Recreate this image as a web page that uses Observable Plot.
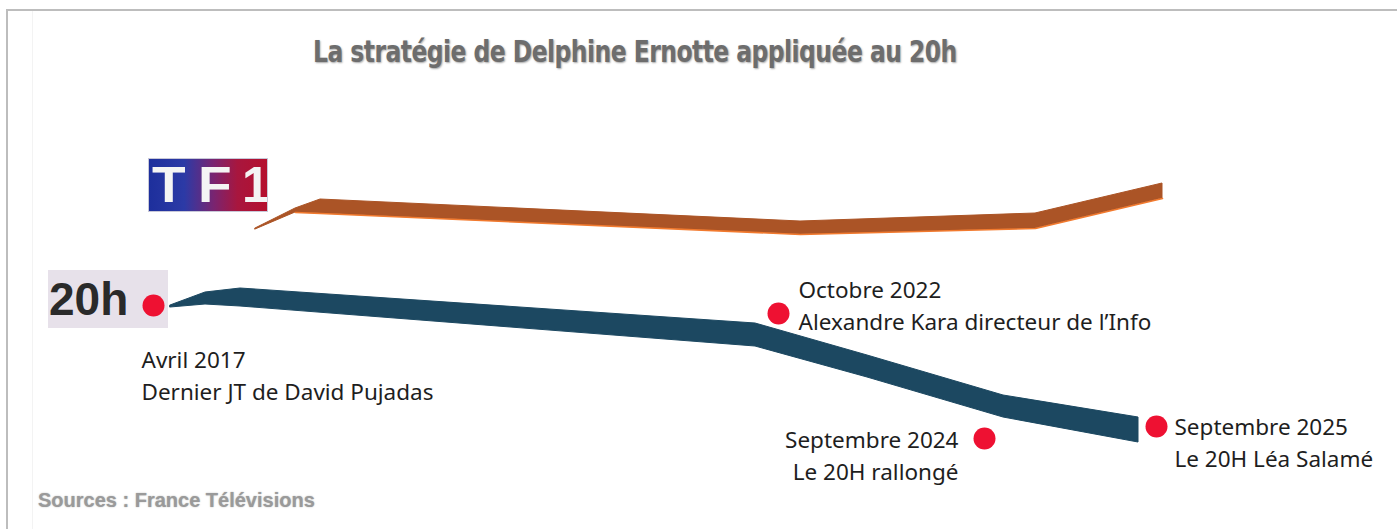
<!DOCTYPE html>
<html>
<head>
<meta charset="utf-8">
<script src="https://cdn.jsdelivr.net/npm/d3@7"></script>
<script src="https://cdn.jsdelivr.net/npm/@observablehq/plot@0.6"></script>
<style>
  html, body { margin: 0; padding: 0; background: #fff; }
  #page { position: relative; width: 1397px; height: 529px; overflow: hidden; background: #fff; }
  #frame { position: absolute; left: 6px; top: 9px; right: -4px; bottom: -4px; border-top: 2px solid #bdbdbd; border-left: 2px solid #bdbdbd; }
  #inner { position: absolute; left: 32px; top: 11px; bottom: 0; border-left: 1px solid #f3f3f3; }
  #chart { position: absolute; left: 0; top: 0; }
  #title { position: absolute; left: 313px; top: 34px; font-family: "DejaVu Sans Condensed", "Liberation Sans", sans-serif; font-stretch: condensed; font-weight: bold; font-size: 30px; color: #6d6d6d; letter-spacing: -0.6px; text-shadow: 1px 1px 2px rgba(0,0,0,0.35); white-space: nowrap; transform: scaleX(0.868); transform-origin: 0 0; }
  #caption { position: absolute; left: 38px; top: 489px; font-family: "Liberation Sans", Arial, sans-serif; font-weight: bold; font-size: 20px; color: #9a9a9a; text-shadow: 0 0 1.5px rgba(120,120,120,0.6); white-space: nowrap; }
  #tf1 { position: absolute; left: 148px; top: 158px; width: 120px; height: 54px; box-sizing: border-box; border: 1px solid #c8c8d8; overflow: hidden;
         background: linear-gradient(90deg, #1d2f9c 0%, #2c3aa6 30%, #7a2470 55%, #a8163e 75%, #b5102e 100%);
         font-family: "Liberation Sans", Arial, sans-serif; font-weight: bold; font-size: 50px; color: #f4f4f4; line-height: 52px; }
  #tf1 span { position: absolute; top: 0px; display: inline-block; transform: scaleX(1.1); transform-origin: 0 0; }
  #tf1 span.one { transform: none; letter-spacing: -9px; }
  #jt { position: absolute; left: 48px; top: 270px; width: 120px; height: 58px; background: #e7e1ea;
        font-family: "Liberation Sans", Arial, sans-serif; font-weight: bold; font-size: 46px; color: #2a2a2a; line-height: 58px; padding-left: 1px; box-sizing: border-box; }
</style>
</head>
<body>
<div id="page">
  <div id="frame"></div>
  <div id="inner"></div>
  <div id="tf1"><span style="left:3px">T</span><span style="left:49px">F</span><span class="one" style="left:93px">1</span></div>
  <div id="jt">20h</div>
  <div id="chart"></div>
  <div id="title">La stratégie de Delphine Ernotte appliquée au 20h</div>
  <div id="caption">Sources : France Télévisions</div>
</div>
<script>
// Ribbon for TF1 (x position on the timeline, upper / lower edge of the ribbon)
const tf1X    = [25.5, 29.5, 32.0, 80.0, 103.5, 116.2];
const tf1High = [30.1, 32.1, 33.0, 30.8, 31.6, 34.6];
const tf1Low  = [30.0, 31.7, 31.6, 29.5, 30.1, 33.1];

// Ribbon for the France 2 20h
const jtX    = [17.0, 20.5, 24.0, 75.5, 86.7, 100.3, 113.8];
const jtHigh = [22.4, 23.7, 24.1, 20.6, 17.4, 13.4, 11.2];
const jtLow  = [22.2, 22.5, 22.3, 18.3, 15.2, 11.2, 8.7];

// Key events
const eventX     = [15.3, 77.8, 98.4, 115.6];
const eventY     = [22.4, 21.6, 9.1, 10.3];
const eventTitle = ["Avril 2017", "Octobre 2022", "Septembre 2024", "Septembre 2025"];
const eventText  = ["Dernier JT de David Pujadas", "Alexandre Kara directeur de l’Info", "Le 20H rallongé", "Le 20H Léa Salamé"];

const tf1 = tf1X.map((x, i) => ({x, y1: tf1Low[i], y2: tf1High[i]}));
const jt = jtX.map((x, i) => ({x, y1: jtLow[i], y2: jtHigh[i]}));
const events = eventX.map((x, i) => ({x, y: eventY[i], label: eventTitle[i] + "\n" + eventText[i]}));

const textStyle = {fontSize: 22.5, fill: "#1e1e1e", lineHeight: 1.43, lineAnchor: "middle", fontFamily: "'Noto Sans', 'Open Sans', sans-serif"};

const chart = Plot.plot({
  width: 1397,
  height: 529,
  marginTop: 0, marginRight: 0, marginBottom: 0, marginLeft: 0,
  x: {domain: [0, 139.7], axis: null},
  y: {domain: [0, 52.9], axis: null},
  style: {background: "transparent", overflow: "visible"},
  marks: [
    Plot.areaY(tf1, {x: "x", y1: "y1", y2: "y2", fill: "#ab5426", stroke: "#ab5426", strokeWidth: 1}),
    Plot.line(tf1.slice(1), {x: "x", y: "y1", stroke: "#f27a2e", strokeWidth: 1.6}),
    Plot.areaY(jt, {x: "x", y1: "y1", y2: "y2", fill: "#1c4861", stroke: "#1c4861", strokeWidth: 1}),
    Plot.dot(events, {x: "x", y: "y", r: 11, fill: "#ee1132"}),
    Plot.text(events.slice(0, 1), {x: "x", y: "y", text: "label", textAnchor: "start", dx: -12, dy: 68, ...textStyle}),
    Plot.text(events.slice(1, 2), {x: "x", y: "y", text: "label", textAnchor: "start", dx: 20, dy: -10, ...textStyle}),
    Plot.text(events.slice(2, 3), {x: "x", y: "y", text: "label", textAnchor: "end", dx: -26, dy: 15, ...textStyle}),
    Plot.text(events.slice(3, 4), {x: "x", y: "y", text: "label", textAnchor: "start", dx: 18, dy: 14, ...textStyle})
  ]
});
document.getElementById("chart").appendChild(chart);
</script>
</body>
</html>
